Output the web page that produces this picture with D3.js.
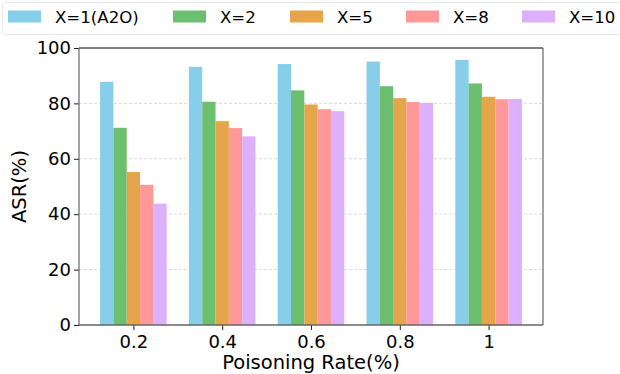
<!DOCTYPE html>
<html lang="en">
    <head>
        <meta charset="utf-8">
        <title>D3</title>
        <script type="text/javascript" src="https://cdnjs.cloudflare.com/ajax/libs/d3/7.8.5/d3.min.js"></script>
        <style type="text/css">
            body { margin: 0; background: #fff; }
            text { font-family: "DejaVu Sans", sans-serif; }
        </style>
    </head>
    <body>
        <script type="text/javascript">
            var rates = ["0.2", "0.4", "0.6", "0.8", "1"];
            var seriesNames = ["X=1(A2O)", "X=2", "X=5", "X=8", "X=10"];
            var x1 = [87.8, 93.2, 94.2, 95.1, 95.7];
            var x2 = [71.2, 80.6, 84.7, 86.2, 87.2];
            var x5 = [55.2, 73.6, 79.6, 81.9, 82.4];
            var x8 = [50.6, 71.1, 77.9, 80.5, 81.5];
            var x10 = [43.8, 68.1, 77.2, 80.2, 81.6];
            var yTicks = [0, 20, 40, 60, 80, 100];
            var colors = ["#87ceeb", "#6dbf70", "#e5a54b", "#ff9999", "#ddb0fc"];

            var series = [x1, x2, x5, x8, x10];

            var w = 620;
            var h = 374;
            // note: "top" is reserved on window, so use pl/pr/pt/pb
            var pl = 79, pr = 543, pt = 48, pb = 325;

            var svg = d3.select("body")
                        .append("svg")
                        .attr("width", w)
                        .attr("height", h);

            // linear x like matplotlib: categories at 0..4, bar width 0.15
            var x = d3.scaleLinear().domain([-0.6125, 4.6125]).range([pl, pr]);
            var y = d3.scaleLinear().domain([0, 100]).range([pb, pt]);
            var bw = 0.15;

            // grid
            svg.selectAll("line.grid")
               .data(yTicks.filter(function (d) { return d > 0 && d < 100; }))
               .enter()
               .append("line")
               .attr("class", "grid")
               .attr("x1", pl)
               .attr("x2", pr)
               .attr("y1", function (d) { return y(d); })
               .attr("y2", function (d) { return y(d); })
               .attr("stroke", "#d0d0d0")
               .attr("stroke-width", 0.8)
               .attr("stroke-dasharray", "3,2");

            // bars
            series.forEach(function (vals, s) {
                svg.append("g")
                   .selectAll("rect")
                   .data(vals)
                   .enter()
                   .append("rect")
                   .attr("x", function (d, i) { return x(i + (s - 2) * bw - bw / 2); })
                   .attr("width", function () { return x(bw) - x(0); })
                   .attr("y", function (d) { return y(d); })
                   .attr("height", function (d) { return y(0) - y(d); })
                   .attr("fill", colors[s]);
            });

            // axes
            var yAxis = d3.axisLeft(y).tickValues(yTicks).tickSize(5).tickPadding(3);
            var gy = svg.append("g").attr("transform", "translate(" + pl + ",0)").call(yAxis);
            gy.select(".domain").remove();
            gy.selectAll("text").attr("font-size", "18px").attr("fill", "#000");
            gy.selectAll("line").attr("stroke", "#222");

            var xAxis = d3.axisBottom(x).tickValues(d3.range(rates.length))
                          .tickFormat(function (d) { return rates[d]; })
                          .tickSize(5).tickPadding(5);
            var gx = svg.append("g").attr("transform", "translate(0," + pb + ")").call(xAxis);
            gx.select(".domain").remove();
            gx.selectAll("text").attr("font-size", "18px").attr("fill", "#000");
            gx.selectAll("line").attr("stroke", "#222");

            // frame
            svg.append("line").attr("x1", pl).attr("x2", pr).attr("y1", pt).attr("y2", pt)
               .attr("stroke", "#000").attr("stroke-width", 1);
            svg.append("line").attr("x1", pl).attr("x2", pr).attr("y1", pb).attr("y2", pb)
               .attr("stroke", "#666").attr("stroke-width", 1.5);
            svg.append("line").attr("x1", pl).attr("x2", pl).attr("y1", pt).attr("y2", pb)
               .attr("stroke", "#666").attr("stroke-width", 1.2);
            svg.append("line").attr("x1", pr).attr("x2", pr).attr("y1", pt).attr("y2", pb)
               .attr("stroke", "#666").attr("stroke-width", 1.2);

            // axis labels
            svg.append("text")
               .attr("x", (pl + pr) / 2)
               .attr("y", 369)
               .attr("text-anchor", "middle")
               .attr("font-size", "19.5px")
               .text("Poisoning Rate(%)");
            svg.append("text")
               .attr("transform", "translate(26," + ((pt + pb) / 2) + ") rotate(-90)")
               .attr("text-anchor", "middle")
               .attr("font-size", "19.5px")
               .text("ASR(%)");

            // legend
            svg.append("rect")
               .attr("x", 2.5).attr("y", 2.5).attr("width", 620).attr("height", 32)
               .attr("rx", 3)
               .attr("fill", "#fff").attr("stroke", "#e8e8e8");
            var lx = [8, 173, 290, 406, 522];
            var lg = svg.selectAll("g.leg")
               .data(seriesNames)
               .enter()
               .append("g")
               .attr("class", "leg")
               .attr("transform", function (d, i) { return "translate(" + lx[i] + ",0)"; });
            lg.append("rect")
              .attr("x", 0).attr("y", 10.5).attr("width", 33).attr("height", 12)
              .attr("fill", function (d, i) { return colors[i]; });
            lg.append("text")
              .attr("x", 47).attr("y", 22.5)
              .attr("font-size", "16.6px")
              .text(function (d) { return d; });
        </script>
    </body>
</html>
